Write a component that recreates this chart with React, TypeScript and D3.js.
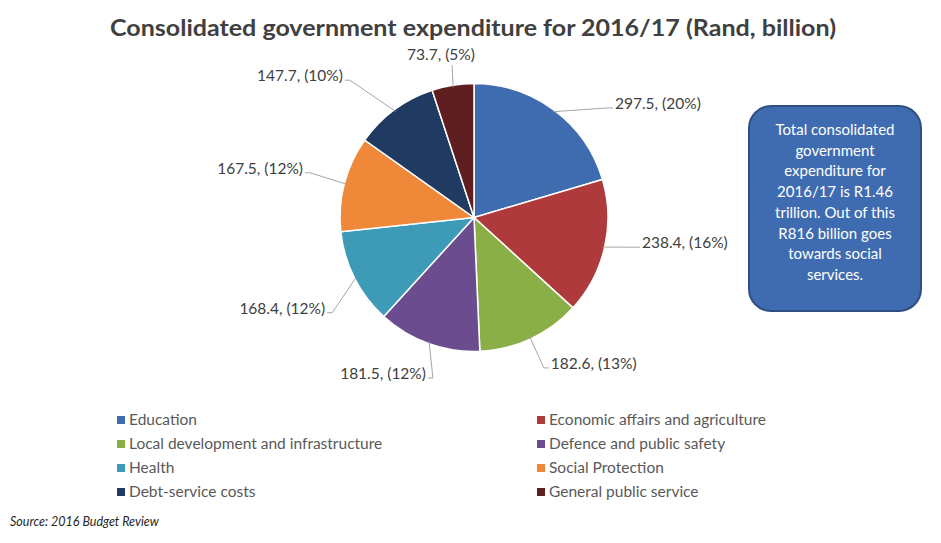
import React from 'react'
import * as d3 from 'd3'

// data (Rand, billion)
const categories = [
  'Education',
  'Economic affairs and agriculture',
  'Local development and infrastructure',
  'Defence and public safety',
  'Health',
  'Social Protection',
  'Debt-service costs',
  'General public service',
]
const values = [297.5, 238.4, 182.6, 181.5, 168.4, 167.5, 147.7, 73.7]
const percentLabels = ['20%', '16%', '13%', '12%', '12%', '12%', '10%', '5%']
const colors = ['#3F6CAF', '#AF3A3C', '#8BAF47', '#6B4D8F', '#3D9BB8', '#F0883A', '#203A61', '#5F1F20']
const noteLines = [
  'Total consolidated',
  'government',
  'expenditure for',
  '2016/17 is R1.46',
  'trillion. Out of this',
  'R816 billion goes',
  'towards social',
  'services.',
]

/* layout */
const W = 941
const H = 543
const cx = 474
const cy = 217.5
const r = 134
const font = 'Lato, "Open Sans", sans-serif'
// label placement tweaks (angle nudge in degrees, radius) - mimics excel "best fit"
const labelNudge: [number, number][] = [
  [15, 177], [-2.8, 168.6], [-1.4, 168], [-3.9, 167],
  [-6.1, 175], [0.2, 174.8], [-6.8, 188.5], [0.9, 154],
]

export default function App() {
  const pie = d3.pie<number>().sort(null).value((d) => d)
  const arcs = pie(values)
  const arc = d3.arc<d3.PieArcDatum<number>>().innerRadius(0).outerRadius(r)

  const polar = (a: number, rad: number): [number, number] => [
    cx + rad * Math.sin(a),
    cy - rad * Math.cos(a),
  ]

  const legendRows = d3.scaleLinear().domain([0, 3]).range([420, 492])
  const legendCols = [117, 537]

  return (
    <svg width={W} height={H} style={{ position: 'absolute', left: 0, top: 0, background: '#fff' }}>
      <text x={110} y={36} fontFamily={font} fontWeight="bold" fontSize={23} fill="#404040"
        textLength={726} lengthAdjust="spacingAndGlyphs">
        Consolidated government expenditure for 2016/17 (Rand, billion)
      </text>

      <g transform={`translate(${cx},${cy})`}>
        {arcs.map((a, i) => (
          <path key={i} d={arc(a) || ''} fill={colors[i]} stroke="#fff" strokeWidth={1.5} />
        ))}
      </g>

      {arcs.map((a, i) => {
        const mid = (a.startAngle + a.endAngle) / 2
        const [p0x, p0y] = polar(mid, r - 2)
        const la = mid + (labelNudge[i][0] * Math.PI) / 180
        const [ax, ay] = polar(la, labelNudge[i][1])
        const s = Math.sin(la)
        const c = Math.cos(la)
        const label = `${values[i]}, (${percentLabels[i]})`
        if (c > 0.95) {
          // near the top: text sits above the leader
          return (
            <g key={i}>
              <line x1={p0x} y1={p0y} x2={ax} y2={ay} stroke="#A6A6A6" strokeWidth={1} />
              <text x={ax - 11} y={ay - 5} textAnchor="middle" fontFamily={font} fontSize={15.5} fill="#404040">{label}</text>
            </g>
          )
        }
        const right = s > 0
        const ex = right ? ax - 5 : ax + 5
        return (
          <g key={i}>
            <polyline points={`${p0x},${p0y} ${ex},${ay} ${ax},${ay}`} fill="none" stroke="#A6A6A6" strokeWidth={1} />
            <text x={right ? ax + 2 : ax - 2} y={ay + 1} textAnchor={right ? 'start' : 'end'}
              fontFamily={font} fontSize={15.5} fill="#404040">{label}</text>
          </g>
        )
      })}

      {/* note box */}
      <rect x={749} y={106} width={172} height={205} rx={22} ry={22} fill="#3F6CB0" stroke="#2E4F82" strokeWidth={2} />
      {noteLines.map((t, i) => (
        <text key={i} x={835} y={135 + i * 20.7} textAnchor="middle" fontFamily={font} fontSize={15} fill="#fff">{t}</text>
      ))}

      {/* legend */}
      {categories.map((cat, i) => {
        const x = legendCols[i % 2]
        const y = legendRows(Math.floor(i / 2))
        return (
          <g key={cat}>
            <rect x={x} y={y - 4} width={8} height={8} fill={colors[i]} />
            <text x={x + 12} y={y + 5} fontFamily={font} fontSize={15.5} fill="#595959">{cat}</text>
          </g>
        )
      })}

      <text x={10} y={526} fontFamily={font} fontStyle="italic" fontSize={12.5} fill="#262626">
        Source: 2016 Budget Review
      </text>
    </svg>
  )
}
